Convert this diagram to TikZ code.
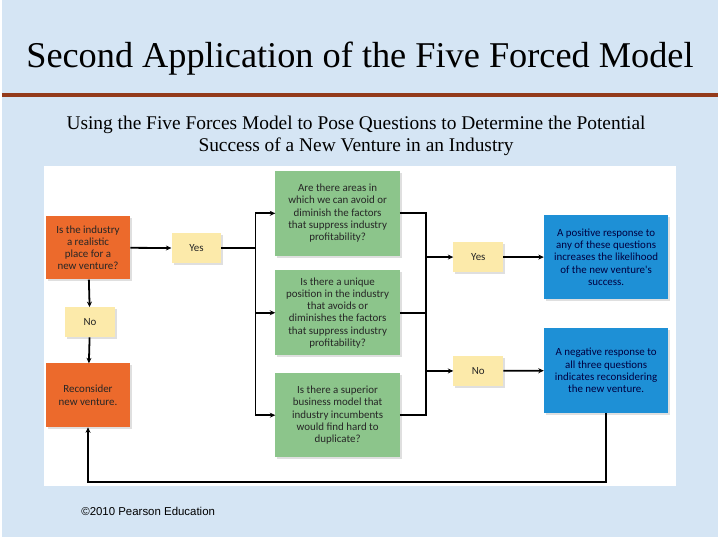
\documentclass[tikz,border=0pt]{standalone}
\usepackage{fontspec}
\setmainfont{Liberation Serif}
\newfontfamily\boxfont{Carlito}
\newfontfamily\notefont{Liberation Sans}
\usetikzlibrary{arrows.meta,shadows}

\definecolor{bgblue}{HTML}{D5E5F4}
\definecolor{rulered}{HTML}{933A1B}
\definecolor{orangebox}{HTML}{EC6A2C}
\definecolor{yellowbox}{HTML}{FCEAAA}
\definecolor{greenbox}{HTML}{8CC58B}
\definecolor{bluebox}{HTML}{1E90D6}

\begin{document}
\begin{tikzpicture}[
x=1pt, y=-1pt,
box/.style={
align=center,
inner sep=2pt,
font=\boxfont\fontsize{11}{12.3}\selectfont,
text=black!85,
drop shadow={shadow xshift=2pt, shadow yshift=-2pt, opacity=0.25}
},
question/.style={box, fill=orangebox, minimum width=85pt, minimum height=64pt},
answer/.style={box, fill=yellowbox, minimum width=50pt, minimum height=30pt},
force/.style={box, fill=greenbox, minimum width=125pt, minimum height=85pt},
result/.style={box, fill=bluebox, minimum width=125pt, minimum height=85pt, text=blue!25!black},
wire/.style={line width=1.8pt},
link/.style={wire, -{Stealth[length=5.5pt,width=5pt]}}
]

% background and header
\fill[bgblue] (0,0) rectangle (720,540);
\node (T) at (360,59) {\fontsize{36.5}{42}\selectfont Second Application of the Five Forced Model};
\draw[rulered, line width=4pt] (0,96) -- (720,96);
\node[align=center, font=\fontsize{19.5}{22}\selectfont] (S) at (356,137)
{Using the Five Forces Model to Pose Questions to Determine the Potential\\
Success of a New Venture in an Industry};
\fill[white] (42,167) rectangle (678,489);

% left column
\node[question] (Q) at (86.5,249) {Is the industry\\a realistic\\place for a\\new venture?};
\node[answer] (Y1) at (195.5,249.5) {Yes};
\node[answer] (N1) at (88.5,324) {No};
\node[question] (R) at (86.5,397.5) {Reconsider\\new venture.};

% the three questions
\node[force] (G1) at (337.5,214.5) {Are there areas in\\which we can avoid or\\diminish the factors\\that suppress industry\\profitability?};
\node[force] (G2) at (337.5,314.5) {Is there a unique\\position in the industry\\that avoids or\\diminishes the factors\\that suppress industry\\profitability?};
\node[force] (G3) at (337.5,417.5) {Is there a superior\\business model that\\industry incumbents\\would find hard to\\duplicate?};

% right column
\node[answer] (Y2) at (479,258.5) {Yes};
\node[answer] (N2) at (479,373) {No};
\node[result] (B1) at (607.5,258.5) {A positive response to\\any of these questions\\increases the likelihood\\of the new venture's\\success.};
\node[result] (B2) at (607.5,372.5) {A negative response to\\all three questions\\indicates reconsidering\\the new venture.};

\coordinate (L) at (255,249.5);
\coordinate (Ry) at (426,258.5);
\coordinate (Rn) at (426,373);
\coordinate (D) at (86.5,485);

\draw[link] (Q) -- (Y1);
\draw[link] (Q) -- (N1);
\draw[link] (N1) -- (R);

\draw[wire] (Y1) -- (L);
\draw[link] (L) |- (G1.west);
\draw[link] (L) |- (G2.west);
\draw[link] (L) |- (G3.west);

\draw[wire] (G1.east) -| (Rn);
\draw[wire] (G2.east) -- (G2.east -| Rn);
\draw[wire] (G3.east) -| (Rn);
\draw[link] (Ry) -- (Y2);
\draw[link] (Rn) -- (N2);
\draw[link] (Y2) -- (B1);
\draw[link] (N2) -- (B2);

\draw[link] (B2.south) |- (D) -- (R.south);

\node[font=\notefont\fontsize{11.5}{13}\selectfont] (C) at (147,514) {©2010 Pearson Education};

\end{tikzpicture}
\end{document}
